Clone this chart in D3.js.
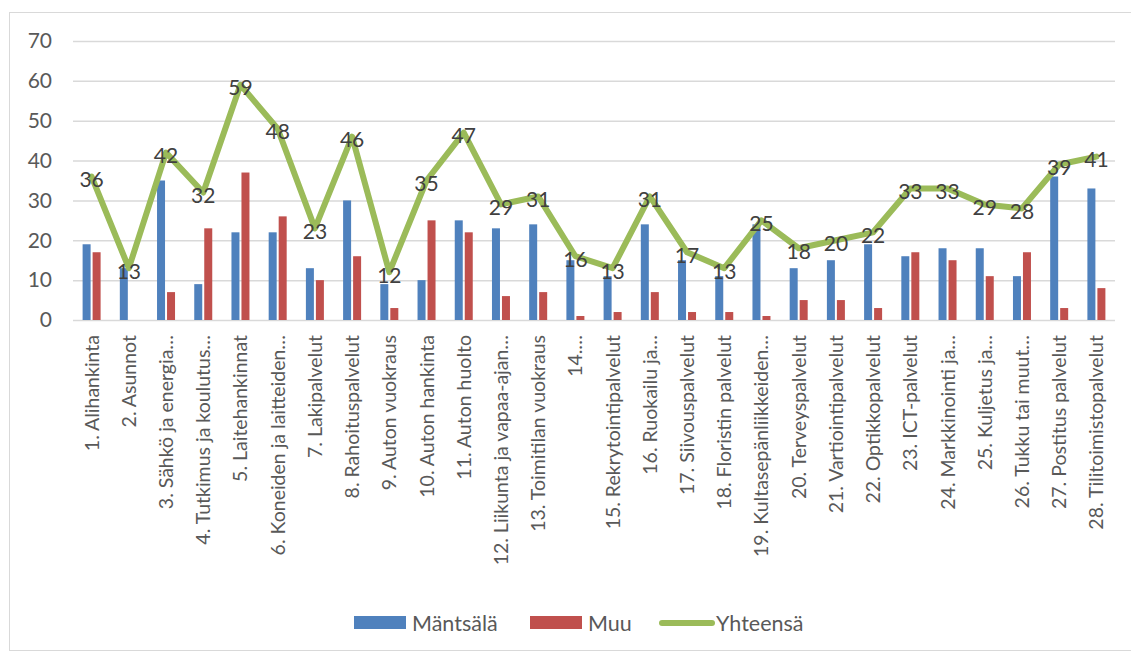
<!DOCTYPE html>
<html>
<head>
<meta charset="utf-8">
<script src="https://cdn.jsdelivr.net/npm/d3@7"></script>
<style>
  html, body { margin: 0; padding: 0; background: #fff; }
  svg { display: block; font-family: Lato, "Open Sans", sans-serif; }
</style>
</head>
<body>
<svg id="chart" width="1131" height="655"></svg>
<script>
const categories = [
  "1. Alihankinta", "2. Asunnot", "3. Sähkö ja energia…", "4. Tutkimus ja koulutus…",
  "5. Laitehankinnat", "6. Koneiden ja laitteiden…", "7. Lakipalvelut", "8. Rahoituspalvelut",
  "9. Auton vuokraus", "10. Auton hankinta", "11. Auton huolto", "12. Liikunta ja vapaa-ajan…",
  "13. Toimitilan vuokraus", "14.…", "15. Rekrytointipalvelut", "16. Ruokailu ja…",
  "17. Siivouspalvelut", "18. Floristin palvelut", "19. Kultasepänliikkeiden…", "20. Terveyspalvelut",
  "21. Vartiointipalvelut", "22. Optikkopalvelut", "23. ICT-palvelut", "24. Markkinointi ja…",
  "25. Kuljetus ja…", "26. Tukku tai muut…", "27. Postitus palvelut", "28. Tilitoimistopalvelut"
];
const mantsala = [19, 13, 35, 9, 22, 22, 13, 30, 9, 10, 25, 23, 24, 15, 11, 24, 15, 11, 24, 13, 15, 19, 16, 18, 18, 11, 36, 33];
const muu      = [17, 0, 7, 23, 37, 26, 10, 16, 3, 25, 22, 6, 7, 1, 2, 7, 2, 2, 1, 5, 5, 3, 17, 15, 11, 17, 3, 8];
const yhteensa = [36, 13, 42, 32, 59, 48, 23, 46, 12, 35, 47, 29, 31, 16, 13, 31, 17, 13, 25, 18, 20, 22, 33, 33, 29, 28, 39, 41];
const yTicks = [0, 10, 20, 30, 40, 50, 60, 70];
const seriesNames = ["Mäntsälä", "Muu", "Yhteensä"];

const colors = { blue: "#4F81BD", red: "#C0504D", green: "#9BBB59" };

const svg = d3.select("#chart");
const plot = { left: 73, right: 1115, top: 41, bottom: 320 };

// Outer chart frame
svg.append("rect")
  .attr("x", 9.5).attr("y", 12.5)
  .attr("width", 1130).attr("height", 638)
  .attr("fill", "none").attr("stroke", "#D9D9D9").attr("stroke-width", 1);

const x = d3.scaleBand().domain(categories).range([plot.left, plot.right]).paddingInner(0).paddingOuter(0);
const y = d3.scaleLinear().domain([0, 70]).range([plot.bottom, plot.top]);

// Horizontal gridlines and y tick labels
const yAxis = d3.axisLeft(y).tickValues(yTicks).tickSize(-(plot.right - plot.left)).tickPadding(21);
const yg = svg.append("g").attr("transform", `translate(${plot.left},0)`).call(yAxis);
yg.select(".domain").remove();
yg.selectAll(".tick line").attr("stroke", "#D9D9D9").attr("stroke-width", 1.5);
yg.selectAll(".tick text")
  .attr("fill", "#595959").style("font-size", "21px").style("font-family", "Lato, sans-serif");

// Bars
const barW = 8, gap = 2;
const bars = svg.append("g");
bars.selectAll("rect.m").data(mantsala).join("rect")
  .attr("class", "m")
  .attr("x", (d, i) => x(categories[i]) + x.bandwidth() / 2 - gap / 2 - barW)
  .attr("y", d => y(d))
  .attr("width", barW)
  .attr("height", d => y(0) - y(d))
  .attr("fill", colors.blue);
bars.selectAll("rect.r").data(muu).join("rect")
  .attr("class", "r")
  .attr("x", (d, i) => x(categories[i]) + x.bandwidth() / 2 + gap / 2)
  .attr("y", d => y(d))
  .attr("width", barW)
  .attr("height", d => y(0) - y(d))
  .attr("fill", colors.red);

// Total line
const line = d3.line()
  .x((d, i) => x(categories[i]) + x.bandwidth() / 2)
  .y(d => y(d));
svg.append("path")
  .datum(yhteensa)
  .attr("d", line)
  .attr("fill", "none")
  .attr("stroke", colors.green)
  .attr("stroke-width", 6)
  .attr("stroke-linejoin", "round")
  .attr("stroke-linecap", "round");

// Value labels on the line
svg.append("g").selectAll("text").data(yhteensa).join("text")
  .attr("x", (d, i) => x(categories[i]) + x.bandwidth() / 2)
  .attr("y", d => y(d) + 2)
  .attr("text-anchor", "middle")
  .attr("dominant-baseline", "central")
  .attr("fill", "#404040")
  .style("font-size", "21px")
  .text(d => d);

// Category labels (rotated)
const xg = svg.append("g");
xg.selectAll("text").data(categories).join("text")
  .attr("transform", d => `translate(${x(d) + x.bandwidth() / 2 + 7},335) rotate(-90)`)
  .attr("text-anchor", "end")
  .attr("fill", "#595959")
  .style("font-size", "19.5px")
  .text(d => d);

// Legend
const legend = svg.append("g");
const legendItems = [
  { name: seriesNames[0], type: "bar", color: colors.blue, x: 354, tx: 412 },
  { name: seriesNames[1], type: "bar", color: colors.red, x: 530, tx: 588 },
  { name: seriesNames[2], type: "line", color: colors.green, x: 659, tx: 716 }
];
legendItems.forEach(it => {
  if (it.type === "bar") {
    legend.append("rect").attr("x", it.x).attr("y", 616).attr("width", 52).attr("height", 13).attr("fill", it.color);
  } else {
    legend.append("line").attr("x1", it.x + 3).attr("x2", it.x + 53).attr("y1", 623).attr("y2", 623)
      .attr("stroke", it.color).attr("stroke-width", 6).attr("stroke-linecap", "round");
  }
  legend.append("text").attr("x", it.tx).attr("y", 623)
    .attr("dominant-baseline", "central")
    .attr("fill", "#595959").style("font-size", "21.5px").text(it.name);
});
</script>
</body>
</html>
